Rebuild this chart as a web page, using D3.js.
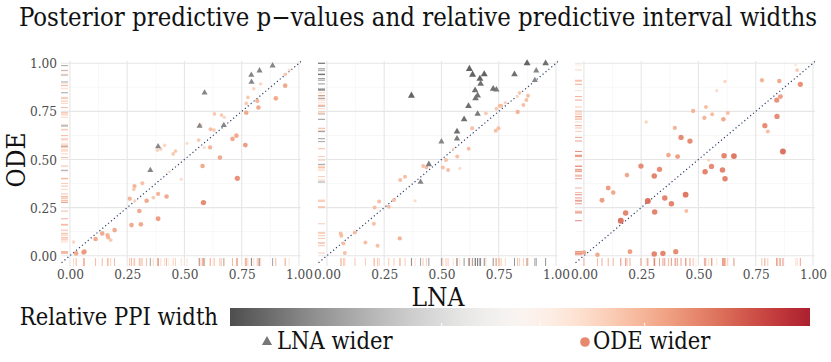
<!DOCTYPE html>
<html>
<head>
<meta charset="utf-8">
<script src="https://cdn.jsdelivr.net/npm/d3@7"></script>
<style>
  body { margin: 0; background: #fff; }
</style>
</head>
<body>
<div id="main"></div>
<script>
// each point: [LNA p-value, ODE p-value, relative PPI width (<0: LNA wider, >0: ODE wider)]
const panelA = [
  [0.885, 0.988, -0.75], [0.792, 0.939, -0.75], [0.828, 0.962, -0.75], [0.793, 0.903, -0.75],
  [0.588, 0.847, -0.75], [0.566, 0.674, -0.75], [0.672, 0.678, -0.75], [0.385, 0.568, -0.75],
  [0.351, 0.444, -0.75],
  [0.957, 0.965, 0.25], [0.94, 0.943, 0.35], [0.833, 0.893, 0.3], [0.803, 0.868, 0.3],
  [0.777, 0.823, 0.35], [0.77, 0.792, 0.35], [0.94, 0.884, 0.5], [0.899, 0.818, 0.5],
  [0.818, 0.804, 0.45], [0.823, 0.77, 0.5], [0.77, 0.743, 0.5], [0.766, 0.575, 0.55],
  [0.727, 0.624, 0.5], [0.71, 0.607, 0.5], [0.731, 0.402, 0.6], [0.631, 0.737, 0.35],
  [0.662, 0.731, 0.35], [0.674, 0.719, 0.3], [0.614, 0.657, 0.4], [0.629, 0.653, 0.35],
  [0.612, 0.563, 0.45], [0.572, 0.679, 0.3], [0.562, 0.601, 0.35], [0.586, 0.563, 0.25],
  [0.579, 0.466, 0.5], [0.655, 0.51, 0.5], [0.583, 0.276, 0.62], [0.486, 0.397, 0.25],
  [0.511, 0.584, 0.25], [0.461, 0.544, 0.35], [0.451, 0.529, 0.35], [0.414, 0.574, 0.3],
  [0.397, 0.553, 0.3], [0.382, 0.548, 0.3], [0.432, 0.437, 0.2], [0.316, 0.376, 0.4],
  [0.282, 0.362, 0.45], [0.279, 0.345, 0.35], [0.261, 0.296, 0.45], [0.283, 0.284, 0.3],
  [0.335, 0.286, 0.5], [0.364, 0.302, 0.35], [0.385, 0.321, 0.45], [0.422, 0.308, 0.5],
  [0.303, 0.232, 0.5], [0.269, 0.159, 0.5], [0.31, 0.163, 0.5], [0.385, 0.192, 0.55],
  [0.195, 0.133, 0.5], [0.141, 0.116, 0.5], [0.164, 0.107, 0.45], [0.167, 0.095, 0.45],
  [0.178, 0.081, 0.35], [0.112, 0.087, 0.5], [0.016, 0.071, 0.3], [0.027, 0.012, 0.5],
  [0.059, 0.017, 0.5], [0.063, 0.021, 0.55]
];

const panelB = [
  [0.874, 1.0, -0.9], [0.955, 1.0, -0.85], [0.622, 0.971, -0.9], [0.636, 0.941, -0.9],
  [0.687, 0.943, -0.9], [0.668, 0.92, -0.9], [0.671, 0.893, -0.85], [0.819, 0.943, -0.85],
  [0.914, 0.962, -0.75], [0.908, 0.912, -0.75], [0.726, 0.867, -0.85], [0.74, 0.863, -0.8],
  [0.647, 0.86, -0.85], [0.658, 0.832, -0.85], [0.649, 0.818, -0.85], [0.369, 0.832, -0.9],
  [0.618, 0.778, -0.85], [0.658, 0.737, -0.8], [0.599, 0.709, -0.85], [0.568, 0.645, -0.85],
  [0.568, 0.608, -0.8], [0.5, 0.593, -0.75], [0.445, 0.475, -0.8], [0.409, 0.383, -0.75],
  [0.841, 0.847, 0.35], [0.878, 0.832, 0.4], [0.832, 0.827, 0.25], [0.871, 0.809, 0.4],
  [0.858, 0.783, 0.4], [0.833, 0.747, 0.45], [0.779, 0.795, 0.3], [0.761, 0.78, 0.4],
  [0.754, 0.78, 0.4], [0.74, 0.764, 0.35], [0.694, 0.74, 0.35], [0.749, 0.662, 0.4],
  [0.737, 0.65, 0.4], [0.634, 0.662, 0.4], [0.552, 0.556, 0.25], [0.619, 0.556, 0.4],
  [0.569, 0.515, 0.4], [0.52, 0.497, 0.4], [0.58, 0.454, 0.25], [0.506, 0.459, 0.4],
  [0.529, 0.445, 0.4], [0.42, 0.466, 0.4], [0.434, 0.459, 0.4], [0.341, 0.411, 0.4],
  [0.32, 0.393, 0.4], [0.385, 0.286, 0.25], [0.293, 0.289, 0.4], [0.228, 0.282, 0.4],
  [0.208, 0.25, 0.4], [0.27, 0.255, 0.4], [0.205, 0.166, 0.4], [0.122, 0.121, 0.4],
  [0.06, 0.116, 0.4], [0.063, 0.104, 0.4], [0.072, 0.064, 0.4], [0.078, 0.014, 0.4],
  [0.168, 0.069, 0.4], [0.221, 0.052, 0.4], [0.318, 0.09, 0.45]
];

const panelC = [
  [0.924, 0.991, 0.2], [0.931, 0.965, 0.35], [0.945, 0.891, 0.6], [0.853, 0.908, 0.5],
  [0.777, 0.912, 0.45], [0.616, 0.906, 0.3], [0.58, 0.858, 0.25], [0.858, 0.827, 0.55],
  [0.842, 0.809, 0.6], [0.843, 0.724, 0.62], [0.79, 0.676, 0.62], [0.803, 0.646, 0.4],
  [0.869, 0.542, 0.72], [0.628, 0.742, 0.4], [0.609, 0.709, 0.5], [0.56, 0.735, 0.4],
  [0.526, 0.716, 0.45], [0.533, 0.773, 0.4], [0.477, 0.752, 0.45], [0.272, 0.695, 0.3],
  [0.397, 0.664, 0.45], [0.424, 0.615, 0.62], [0.463, 0.596, 0.62], [0.612, 0.52, 0.65],
  [0.655, 0.518, 0.7], [0.545, 0.497, 0.3], [0.489, 0.497, 0.15], [0.557, 0.464, 0.62],
  [0.409, 0.515, 0.55], [0.369, 0.523, 0.5], [0.249, 0.466, 0.62], [0.33, 0.449, 0.62],
  [0.307, 0.414, 0.65], [0.188, 0.419, 0.5], [0.529, 0.437, 0.65], [0.605, 0.445, 0.65],
  [0.616, 0.4, 0.65], [0.106, 0.352, 0.55], [0.128, 0.328, 0.5], [0.079, 0.288, 0.55],
  [0.444, 0.317, 0.7], [0.353, 0.3, 0.65], [0.279, 0.284, 0.72], [0.382, 0.27, 0.65],
  [0.447, 0.232, 0.4], [0.309, 0.227, 0.65], [0.182, 0.222, 0.65], [0.161, 0.182, 0.72],
  [0.059, 0.005, 0.5], [0.201, 0.021, 0.55], [0.307, 0.009, 0.65], [0.345, 0.012, 0.65],
  [0.401, 0.021, 0.62], [0.0, 0.017, 0.5]
];

const panels = [panelA, panelB, panelC];
const tickValues = [0, 0.25, 0.5, 0.75, 1];
const minorValues = [0.125, 0.375, 0.625, 0.875];
const titleText = 'Posterior predictive p\u2212values and relative predictive interval widths';
const xLabel = 'LNA';
const yLabel = 'ODE';
const legendTitle = 'Relative PPI width';
const shapeLabels = ['LNA wider', 'ODE wider'];
const colorbarTicks = [-0.27, 0.07, 0.43];

const width = 831;
const height = 362;
const panelLefts = [61, 318, 575];
const panelW = 240;
const panelTop = 61;
const panelBottom = 266;
const serif = '"DejaVu Serif Condensed", "DejaVu Serif", serif';

// width -> colour, dark grey for LNA wider, red for ODE wider
const colorOf = (w) => d3.interpolateRdGy(0.5 - 0.4 * w);
const radiusOf = (w) => 0.8 + 3 * Math.abs(w);

function addText(parent, size) {
  return parent.append('text')
    .style('font-family', serif)
    .style('font-size', `${size}px`)
    .attr('fill', '#111');
}

function createChart() {
  const svg = d3.select('#main')
    .append('svg')
    .attr('width', width)
    .attr('height', height)
    .style('font-family', serif);

  addText(svg, 25.5)
    .attr('x', 418)
    .attr('y', 26)
    .attr('text-anchor', 'middle')
    .text(titleText);

  const yScale = d3.scaleLinear()
    .domain([-0.0535, 1.012])
    .range([panelBottom, panelTop]);

  panels.forEach((data, i) => {
    const left = panelLefts[i];
    const xScale = d3.scaleLinear()
      .domain([-0.039, 1.009])
      .range([left, left + panelW]);

    const g = svg.append('g');

    // grid
    g.selectAll('.minor-x').data(minorValues).enter().append('line')
      .attr('x1', (d) => xScale(d)).attr('x2', (d) => xScale(d))
      .attr('y1', panelTop).attr('y2', panelBottom)
      .attr('stroke', '#f2f2f2').attr('stroke-width', 0.6);
    g.selectAll('.minor-y').data(minorValues).enter().append('line')
      .attr('x1', left).attr('x2', left + panelW)
      .attr('y1', (d) => yScale(d)).attr('y2', (d) => yScale(d))
      .attr('stroke', '#f2f2f2').attr('stroke-width', 0.6);
    g.selectAll('.major-x').data(tickValues).enter().append('line')
      .attr('x1', (d) => xScale(d)).attr('x2', (d) => xScale(d))
      .attr('y1', panelTop).attr('y2', panelBottom)
      .attr('stroke', '#e6e6e6').attr('stroke-width', 1.1);
    g.selectAll('.major-y').data(tickValues).enter().append('line')
      .attr('x1', left).attr('x2', left + panelW)
      .attr('y1', (d) => yScale(d)).attr('y2', (d) => yScale(d))
      .attr('stroke', '#e6e6e6').attr('stroke-width', 1.1);

    // x tick labels
    const xAxis = g.append('g')
      .attr('transform', `translate(0, ${panelBottom})`)
      .call(d3.axisBottom(xScale).tickValues(tickValues).tickFormat(d3.format('.2f')).tickSize(0));
    xAxis.select('.domain').remove();
    xAxis.attr('font-family', null).attr('font-size', null);
    xAxis.selectAll('text')
      .attr('y', 12.5)
      .attr('dy', null)
      .style('font-family', serif)
      .style('font-size', '13.5px')
      .attr('fill', '#4d4d4d');

    if (i === 0) {
      const yAxis = g.append('g')
        .attr('transform', `translate(${left - 4}, 0)`)
        .call(d3.axisLeft(yScale).tickValues(tickValues).tickFormat(d3.format('.2f')).tickSize(0));
      yAxis.select('.domain').remove();
      yAxis.attr('font-family', null).attr('font-size', null);
      yAxis.selectAll('text')
        .attr('x', 0)
        .attr('y', 4.5)
        .attr('dy', null)
        .style('font-family', serif)
        .style('font-size', '13.5px')
        .attr('fill', '#4d4d4d');
    }

    // rugs
    g.append('g').selectAll('line')
      .data(data).enter().append('line')
      .attr('x1', (d) => xScale(d[0])).attr('x2', (d) => xScale(d[0]))
      .attr('y1', panelBottom - 8).attr('y2', panelBottom)
      .attr('stroke', (d) => colorOf(d[2]))
      .attr('stroke-opacity', 0.75)
      .attr('stroke-width', 1);
    g.append('g').selectAll('line')
      .data(data).enter().append('line')
      .attr('x1', left).attr('x2', left + 7)
      .attr('y1', (d) => yScale(d[1])).attr('y2', (d) => yScale(d[1]))
      .attr('stroke', (d) => colorOf(d[2]))
      .attr('stroke-opacity', 0.75)
      .attr('stroke-width', 1);

    // y = x reference
    const clipId = `clip-${i}`;
    svg.append('clipPath').attr('id', clipId)
      .append('rect')
      .attr('x', left).attr('y', panelTop)
      .attr('width', panelW).attr('height', panelBottom - panelTop);
    g.append('line')
      .attr('clip-path', `url(#${clipId})`)
      .attr('x1', xScale(-0.1)).attr('y1', yScale(-0.1))
      .attr('x2', xScale(1.1)).attr('y2', yScale(1.1))
      .attr('stroke', '#2c3e6b')
      .attr('stroke-width', 1.2)
      .attr('stroke-dasharray', '1.2,2.6');

    // points
    const sorted = data.slice().sort((a, b) => Math.abs(a[2]) - Math.abs(b[2]));
    g.append('g').selectAll('circle')
      .data(sorted.filter((d) => d[2] > 0)).enter().append('circle')
      .attr('cx', (d) => xScale(d[0]))
      .attr('cy', (d) => yScale(d[1]))
      .attr('r', (d) => radiusOf(d[2]))
      .attr('fill', (d) => colorOf(d[2]))
      .attr('fill-opacity', 0.92);
    g.append('g').selectAll('path')
      .data(sorted.filter((d) => d[2] < 0)).enter().append('path')
      .attr('transform', (d) => `translate(${xScale(d[0])}, ${yScale(d[1])})`)
      .attr('d', (d) => {
        const side = 2.0 * radiusOf(d[2]);
        return d3.symbol().type(d3.symbolTriangle).size(side * side * Math.sqrt(3) / 4)();
      })
      .attr('fill', (d) => colorOf(d[2]));
  });

  // axis titles
  addText(svg, 26)
    .attr('x', 438)
    .attr('y', 306)
    .attr('text-anchor', 'middle')
    .text(xLabel);
  addText(svg, 26)
    .attr('transform', 'translate(25, 160) rotate(-90)')
    .attr('text-anchor', 'middle')
    .text(yLabel);

  // colour legend
  const barX = 230, barY = 308, barW = 580, barH = 18;
  const barScale = d3.scaleLinear().domain([-1, 1]).range([barX, barX + barW]);
  const grad = svg.append('defs').append('linearGradient')
    .attr('id', 'ppi-grad');
  d3.range(0, 1.0001, 0.05).forEach((t) => {
    grad.append('stop')
      .attr('offset', `${t * 100}%`)
      .attr('stop-color', colorOf(-1 + 2 * t));
  });
  svg.append('rect')
    .attr('x', barX).attr('y', barY)
    .attr('width', barW).attr('height', barH)
    .attr('fill', 'url(#ppi-grad)');
  svg.append('g').selectAll('line')
    .data(colorbarTicks).enter().append('line')
    .attr('x1', (d) => barScale(d)).attr('x2', (d) => barScale(d))
    .attr('y1', barY + barH - 3).attr('y2', barY + barH)
    .attr('stroke', '#fff').attr('stroke-width', 1);
  addText(svg, 23.5)
    .attr('x', 218)
    .attr('y', 325)
    .attr('text-anchor', 'end')
    .text(legendTitle);

  // shape legend
  svg.append('path')
    .attr('transform', 'translate(267, 342)')
    .attr('d', d3.symbol().type(d3.symbolTriangle).size(45)())
    .attr('fill', '#777');
  addText(svg, 23.5)
    .attr('x', 277).attr('y', 349)
    .text(shapeLabels[0]);
  svg.append('circle')
    .attr('cx', 585).attr('cy', 342).attr('r', 4.8)
    .attr('fill', colorOf(0.6));
  addText(svg, 23.5)
    .attr('x', 593).attr('y', 349)
    .text(shapeLabels[1]);
}

createChart();
</script>
</body>
</html>
